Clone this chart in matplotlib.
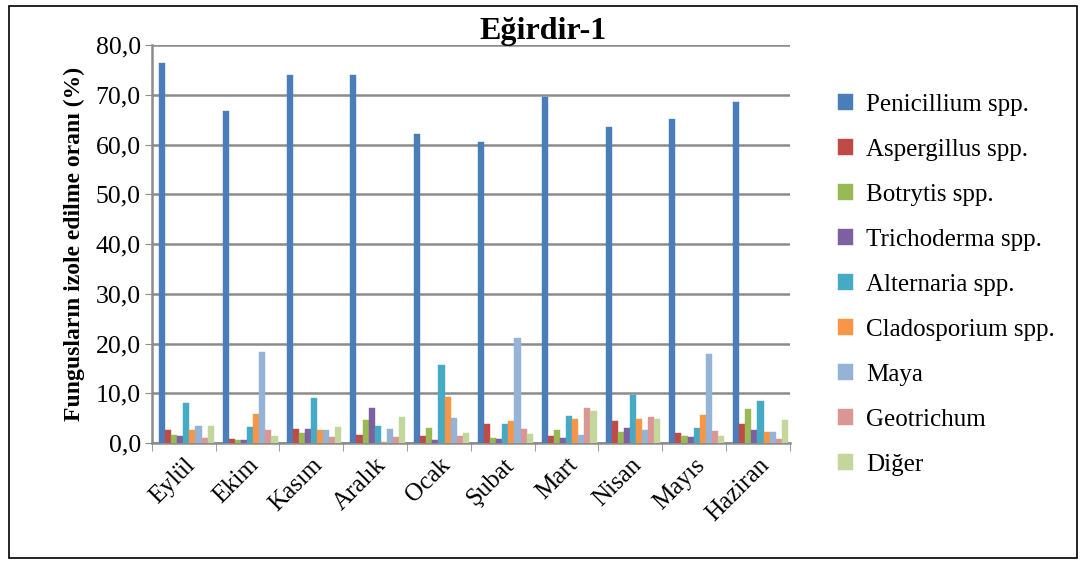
import matplotlib.pyplot as plt
import numpy as np

plt.rcParams['font.family'] = ['Liberation Serif', 'DejaVu Serif']

months = ["Eylül", "Ekim", "Kasım", "Aralık", "Ocak", "Şubat", "Mart", "Nisan", "Mayıs", "Haziran"]
species = ["Penicillium spp.", "Aspergillus spp.", "Botrytis spp.", "Trichoderma spp.",
           "Alternaria spp.", "Cladosporium spp.", "Maya", "Geotrichum", "Diğer"]
colors = ["#4A7EBB", "#BE4B48", "#98B954", "#7D60A0", "#46AAC5",
          "#F79646", "#95B3D7", "#D99694", "#C3D69B"]

penicillium = [76.5, 66.8, 74.0, 74.0, 62.2, 60.5, 69.6, 63.6, 65.1, 68.6]
aspergillus = [2.6, 0.8, 2.8, 1.7, 1.3, 3.9, 1.3, 4.4, 2.1, 3.8]
botrytis = [1.7, 0.5, 2.0, 4.7, 3.0, 1.0, 2.7, 2.2, 1.5, 6.8]
trichoderma = [1.3, 0.5, 2.9, 7.0, 0.6, 0.7, 0.9, 3.0, 1.1, 2.7]
alternaria = [8.0, 3.2, 9.1, 3.5, 15.6, 3.8, 5.4, 9.6, 3.1, 8.4]
cladosporium = [2.6, 5.8, 2.6, 0.1, 9.3, 4.5, 4.9, 4.8, 5.7, 2.3]
maya = [3.4, 18.3, 2.6, 2.9, 5.0, 21.1, 1.7, 2.6, 17.8, 2.3]
geotrichum = [0.9, 2.6, 1.2, 1.1, 1.5, 2.8, 7.1, 5.2, 2.4, 0.8]
diger = [3.4, 1.5, 3.3, 5.2, 2.0, 1.9, 6.4, 4.8, 1.5, 4.6]

series = [penicillium, aspergillus, botrytis, trichoderma, alternaria,
          cladosporium, maya, geotrichum, diger]

fig = plt.figure(figsize=(10.85, 5.65), dpi=100)
ax = fig.add_axes([0.140, 0.216, 0.588, 0.704])

x = np.arange(len(months))
w = 0.86 / len(series)
for i, (vals, name, c) in enumerate(zip(series, species, colors)):
    off = (i - (len(series) - 1) / 2) * w + 0.04
    ax.bar(x + off, vals, width=w * 1.0, color=c, label=name,
           edgecolor=c, linewidth=0.3, zorder=3)

ax.set_xlim(-0.5, len(months) - 0.5)
ax.set_ylim(0, 80)
ax.set_yticks(np.arange(0, 81, 10))
ax.set_yticklabels([f"{v:.1f}".replace('.', ',') for v in np.arange(0, 81, 10)], fontsize=18.5)
ax.yaxis.grid(True, color="#8C8C8C", linewidth=1.8, zorder=0)
ax.set_axisbelow(True)

ax.set_xticks(x)
ax.set_xticklabels(months, rotation=45, ha='right', rotation_mode='anchor', fontsize=18)
ax.set_xticks(np.arange(-0.5, len(months), 1), minor=True)
ax.tick_params(axis='x', which='major', length=0, pad=8)
ax.tick_params(axis='x', which='minor', length=6, color="#8C8C8C")
ax.tick_params(axis='y', length=5, color="#8C8C8C", pad=3)

for s in ['top', 'right']:
    ax.spines[s].set_visible(False)
for s in ['left', 'bottom']:
    ax.spines[s].set_color("#8C8C8C")
    ax.spines[s].set_linewidth(1.8)

ax.set_ylabel("Fungusların izole edilme oranı (%)", fontsize=17, fontweight='bold', labelpad=8)
fig.text(0.50, 0.945, "Eğirdir-1", ha='center', va='center', fontsize=23, fontweight='bold')

fig.legend(loc='center left', bbox_to_anchor=(0.752, 0.496), frameon=False, fontsize=18,
           handlelength=0.6, handleheight=0.6, labelspacing=0.92, handletextpad=0.5)

fig.patches.append(plt.Rectangle((0.008, 0.012), 0.985, 0.978, transform=fig.transFigure,
                                 fill=False, edgecolor='black', linewidth=1.2))

fig.savefig("out.png", dpi=100)
